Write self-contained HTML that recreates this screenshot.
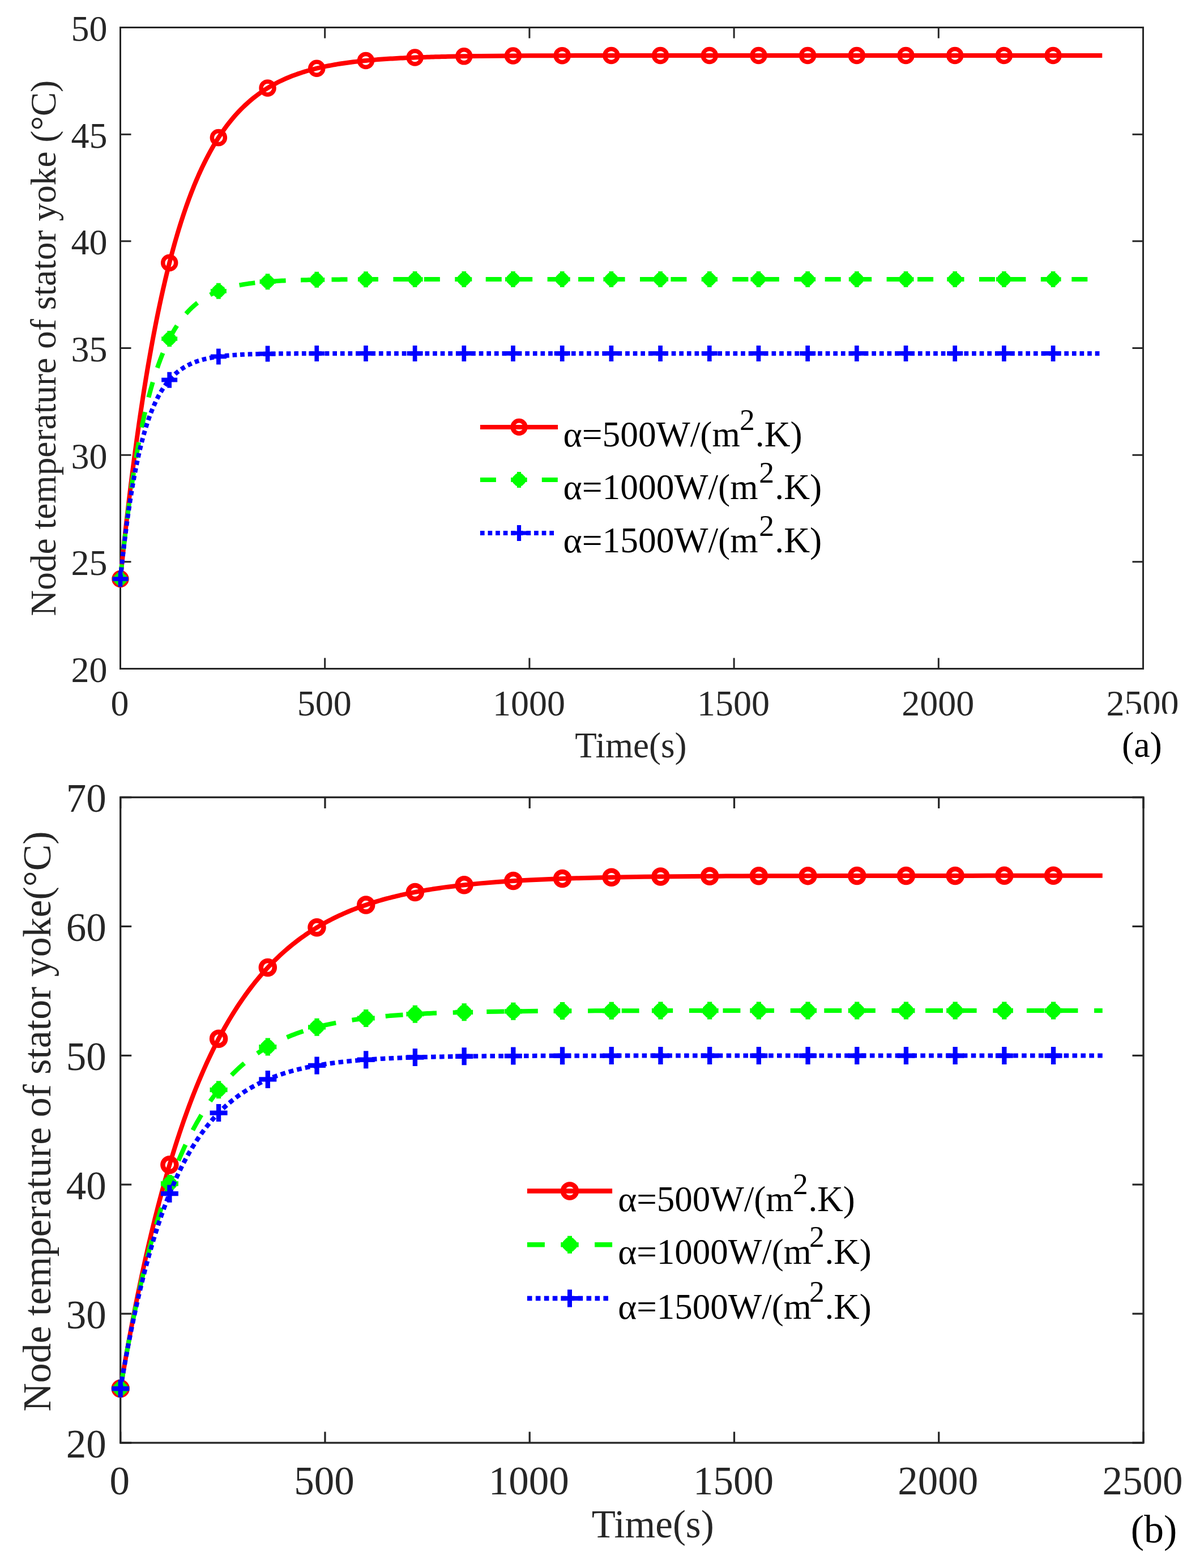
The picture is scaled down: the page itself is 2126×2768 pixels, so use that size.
<!DOCTYPE html>
<html><head><meta charset="utf-8"><title>Node temperature of stator yoke</title>
<style>html,body{margin:0;padding:0;background:#fff;width:2126px;height:2768px;overflow:hidden}svg{display:block}</style>
</head><body>
<svg width="2126" height="2768" viewBox="0 0 2126 2768">
<rect width="2126" height="2768" fill="#ffffff"/>
<rect x="212.5" y="48.5" width="1806" height="1132" fill="none" stroke="#262626" stroke-width="3"/>
<path d="M212.5 1180.5V1161.5M212.5 48.5V67.5M573.7 1180.5V1161.5M573.7 48.5V67.5M934.9 1180.5V1161.5M934.9 48.5V67.5M1296.1 1180.5V1161.5M1296.1 48.5V67.5M1657.3 1180.5V1161.5M1657.3 48.5V67.5M2018.5 1180.5V1161.5M2018.5 48.5V67.5M212.5 1180.5H231.5M2018.5 1180.5H1999.5M212.5 991.83H231.5M2018.5 991.83H1999.5M212.5 803.17H231.5M2018.5 803.17H1999.5M212.5 614.5H231.5M2018.5 614.5H1999.5M212.5 425.83H231.5M2018.5 425.83H1999.5M212.5 237.17H231.5M2018.5 237.17H1999.5M212.5 48.5H231.5M2018.5 48.5H1999.5" stroke="#262626" stroke-width="3" fill="none"/>
<path d="M212.5 1022.02 L213.94 1007.87 L215.39 993.93 L216.83 980.21 L218.28 966.7 L219.72 953.4 L221.17 940.3 L222.61 927.4 L224.06 914.7 L225.5 902.19 L226.95 889.87 L228.39 877.74 L229.84 865.8 L231.28 854.04 L232.73 842.47 L234.17 831.06 L235.62 819.84 L237.06 808.78 L238.51 797.9 L239.95 787.18 L241.4 776.62 L242.84 766.23 L244.29 755.99 L245.73 745.92 L247.18 735.99 L248.62 726.22 L250.06 716.6 L251.51 707.13 L252.95 697.8 L254.4 688.61 L255.84 679.57 L257.29 670.66 L258.73 661.89 L260.18 653.25 L261.62 644.75 L263.07 636.38 L264.51 628.13 L265.96 620.01 L267.4 612.02 L268.85 604.14 L270.29 596.39 L271.74 588.76 L273.18 581.24 L274.63 573.84 L276.07 566.55 L277.52 559.38 L278.96 552.31 L280.41 545.35 L281.85 538.5 L283.3 531.75 L284.74 525.11 L286.18 518.57 L287.63 512.13 L289.07 505.78 L290.52 499.54 L291.96 493.39 L293.41 487.33 L294.85 481.37 L296.3 475.5 L297.74 469.72 L299.19 464.02 L300.63 458.42 L302.08 452.9 L303.52 447.46 L304.97 442.11 L306.41 436.84 L307.86 431.65 L309.3 426.54 L310.75 421.5 L312.19 416.55 L313.64 411.67 L315.08 406.87 L316.53 402.13 L317.97 397.48 L319.42 392.89 L320.86 388.37 L322.3 383.92 L323.75 379.54 L325.19 375.23 L326.64 370.99 L328.08 366.8 L329.53 362.69 L330.97 358.63 L332.42 354.64 L333.86 350.71 L335.31 346.84 L336.75 343.03 L338.2 339.27 L339.64 335.58 L341.09 331.94 L342.53 328.35 L343.98 324.83 L345.42 321.35 L346.87 317.93 L348.31 314.56 L349.76 311.24 L351.2 307.98 L352.65 304.76 L354.09 301.59 L355.54 298.47 L356.98 295.4 L360.59 287.93 L364.2 280.74 L367.82 273.82 L371.43 267.16 L375.04 260.76 L378.65 254.6 L382.26 248.67 L385.88 242.96 L389.49 237.47 L393.1 232.19 L396.71 227.11 L400.32 222.22 L403.94 217.52 L407.55 212.99 L411.16 208.64 L414.77 204.45 L418.38 200.42 L422 196.54 L425.61 192.81 L429.22 189.22 L432.83 185.76 L436.44 182.44 L440.06 179.24 L443.67 176.16 L447.28 173.2 L450.89 170.35 L454.5 167.61 L458.12 164.97 L461.73 162.44 L465.34 160 L468.95 157.65 L472.56 155.39 L476.18 153.21 L479.79 151.12 L483.4 149.11 L487.01 147.17 L490.62 145.31 L494.24 143.51 L497.85 141.79 L501.46 140.13 L505.07 138.53 L508.68 137 L512.3 135.52 L515.91 134.09 L519.52 132.73 L523.13 131.41 L526.74 130.14 L530.36 128.92 L533.97 127.75 L537.58 126.62 L541.19 125.54 L544.8 124.49 L548.42 123.49 L552.03 122.52 L555.64 121.59 L559.25 120.69 L562.86 119.83 L566.48 119 L570.09 118.21 L573.7 117.44 L577.31 116.7 L580.92 115.99 L584.54 115.31 L588.15 114.65 L591.76 114.02 L595.37 113.41 L598.98 112.82 L602.6 112.26 L606.21 111.72 L609.82 111.19 L613.43 110.69 L617.04 110.21 L620.66 109.74 L624.27 109.3 L627.88 108.87 L631.49 108.45 L635.1 108.05 L638.72 107.67 L642.33 107.3 L645.94 106.95 L649.55 106.61 L653.16 106.28 L656.78 105.96 L660.39 105.66 L664 105.37 L667.61 105.08 L671.22 104.81 L674.84 104.55 L678.45 104.3 L682.06 104.06 L685.67 103.83 L689.28 103.61 L692.9 103.39 L696.51 103.19 L700.12 102.99 L703.73 102.79 L707.34 102.61 L710.96 102.43 L714.57 102.26 L718.18 102.1 L721.79 101.94 L725.4 101.79 L729.02 101.64 L732.63 101.5 L736.24 101.37 L739.85 101.24 L743.46 101.11 L747.08 100.99 L750.69 100.88 L754.3 100.76 L757.91 100.66 L761.52 100.55 L765.14 100.46 L768.75 100.36 L772.36 100.27 L775.97 100.18 L779.58 100.09 L783.2 100.01 L786.81 99.93 L790.42 99.86 L819.32 99.35 L848.21 98.97 L877.11 98.69 L906 98.49 L934.9 98.34 L963.8 98.23 L992.69 98.15 L1021.59 98.09 L1050.48 98.05 L1079.38 98.02 L1108.28 98 L1137.17 97.98 L1166.07 97.97 L1194.96 97.96 L1223.86 97.95 L1252.76 97.94 L1281.65 97.94 L1310.55 97.94 L1339.44 97.94 L1368.34 97.93 L1397.24 97.93 L1426.13 97.93 L1455.03 97.93 L1483.92 97.93 L1512.82 97.93 L1541.72 97.93 L1570.61 97.93 L1599.51 97.93 L1628.4 97.93 L1657.3 97.93 L1686.2 97.93 L1715.09 97.93 L1743.99 97.93 L1772.88 97.93 L1801.78 97.93 L1830.68 97.93 L1859.57 97.93 L1888.47 97.93 L1917.36 97.93 L1946.26 97.93" fill="none" stroke="#ff0000" stroke-width="8" stroke-linejoin="round"/>
<circle cx="212.5" cy="1022.02" r="11.5" fill="none" stroke="#ff0000" stroke-width="7.5"/>
<circle cx="299.19" cy="464.02" r="11.5" fill="none" stroke="#ff0000" stroke-width="7.5"/>
<circle cx="385.88" cy="242.96" r="11.5" fill="none" stroke="#ff0000" stroke-width="7.5"/>
<circle cx="472.56" cy="155.39" r="11.5" fill="none" stroke="#ff0000" stroke-width="7.5"/>
<circle cx="559.25" cy="120.69" r="11.5" fill="none" stroke="#ff0000" stroke-width="7.5"/>
<circle cx="645.94" cy="106.95" r="11.5" fill="none" stroke="#ff0000" stroke-width="7.5"/>
<circle cx="732.63" cy="101.5" r="11.5" fill="none" stroke="#ff0000" stroke-width="7.5"/>
<circle cx="819.32" cy="99.35" r="11.5" fill="none" stroke="#ff0000" stroke-width="7.5"/>
<circle cx="906" cy="98.49" r="11.5" fill="none" stroke="#ff0000" stroke-width="7.5"/>
<circle cx="992.69" cy="98.15" r="11.5" fill="none" stroke="#ff0000" stroke-width="7.5"/>
<circle cx="1079.38" cy="98.02" r="11.5" fill="none" stroke="#ff0000" stroke-width="7.5"/>
<circle cx="1166.07" cy="97.97" r="11.5" fill="none" stroke="#ff0000" stroke-width="7.5"/>
<circle cx="1252.76" cy="97.94" r="11.5" fill="none" stroke="#ff0000" stroke-width="7.5"/>
<circle cx="1339.44" cy="97.94" r="11.5" fill="none" stroke="#ff0000" stroke-width="7.5"/>
<circle cx="1426.13" cy="97.93" r="11.5" fill="none" stroke="#ff0000" stroke-width="7.5"/>
<circle cx="1512.82" cy="97.93" r="11.5" fill="none" stroke="#ff0000" stroke-width="7.5"/>
<circle cx="1599.51" cy="97.93" r="11.5" fill="none" stroke="#ff0000" stroke-width="7.5"/>
<circle cx="1686.2" cy="97.93" r="11.5" fill="none" stroke="#ff0000" stroke-width="7.5"/>
<circle cx="1772.88" cy="97.93" r="11.5" fill="none" stroke="#ff0000" stroke-width="7.5"/>
<circle cx="1859.57" cy="97.93" r="11.5" fill="none" stroke="#ff0000" stroke-width="7.5"/>
<path d="M212.5 1022.02 L213.94 1007.95 L215.39 994.26 L216.83 980.93 L218.28 967.95 L219.72 955.32 L221.17 943.02 L222.61 931.06 L224.06 919.41 L225.5 908.07 L226.95 897.03 L228.39 886.28 L229.84 875.82 L231.28 865.64 L232.73 855.73 L234.17 846.09 L235.62 836.7 L237.06 827.56 L238.51 818.66 L239.95 810 L241.4 801.57 L242.84 793.36 L244.29 785.37 L245.73 777.6 L247.18 770.03 L248.62 762.66 L250.06 755.49 L251.51 748.51 L252.95 741.71 L254.4 735.1 L255.84 728.66 L257.29 722.39 L258.73 716.29 L260.18 710.36 L261.62 704.58 L263.07 698.95 L264.51 693.47 L265.96 688.14 L267.4 682.95 L268.85 677.9 L270.29 672.98 L271.74 668.2 L273.18 663.54 L274.63 659 L276.07 654.59 L277.52 650.29 L278.96 646.11 L280.41 642.03 L281.85 638.07 L283.3 634.21 L284.74 630.46 L286.18 626.8 L287.63 623.24 L289.07 619.78 L290.52 616.41 L291.96 613.13 L293.41 609.93 L294.85 606.82 L296.3 603.79 L297.74 600.85 L299.19 597.98 L300.63 595.19 L302.08 592.47 L303.52 589.82 L304.97 587.25 L306.41 584.74 L307.86 582.3 L309.3 579.93 L310.75 577.62 L312.19 575.37 L313.64 573.18 L315.08 571.04 L316.53 568.97 L317.97 566.95 L319.42 564.98 L320.86 563.07 L322.3 561.2 L323.75 559.39 L325.19 557.62 L326.64 555.91 L328.08 554.23 L329.53 552.6 L330.97 551.02 L332.42 549.48 L333.86 547.97 L335.31 546.51 L336.75 545.09 L338.2 543.7 L339.64 542.35 L341.09 541.04 L342.53 539.76 L343.98 538.52 L345.42 537.31 L346.87 536.13 L348.31 534.98 L349.76 533.87 L351.2 532.78 L352.65 531.72 L354.09 530.69 L355.54 529.69 L356.98 528.72 L360.59 526.39 L364.2 524.21 L367.82 522.18 L371.43 520.28 L375.04 518.5 L378.65 516.84 L382.26 515.28 L385.88 513.83 L389.49 512.47 L393.1 511.2 L396.71 510.02 L400.32 508.91 L403.94 507.87 L407.55 506.9 L411.16 506 L414.77 505.15 L418.38 504.36 L422 503.62 L425.61 502.93 L429.22 502.28 L432.83 501.67 L436.44 501.11 L440.06 500.58 L443.67 500.09 L447.28 499.62 L450.89 499.19 L454.5 498.79 L458.12 498.41 L461.73 498.06 L465.34 497.73 L468.95 497.42 L472.56 497.13 L476.18 496.86 L479.79 496.61 L483.4 496.38 L487.01 496.16 L490.62 495.95 L494.24 495.76 L497.85 495.58 L501.46 495.41 L505.07 495.25 L508.68 495.11 L512.3 494.97 L515.91 494.84 L519.52 494.72 L523.13 494.61 L526.74 494.5 L530.36 494.41 L533.97 494.31 L537.58 494.23 L541.19 494.15 L544.8 494.07 L548.42 494 L552.03 493.94 L555.64 493.88 L559.25 493.82 L562.86 493.77 L566.48 493.72 L570.09 493.67 L573.7 493.63 L577.31 493.58 L580.92 493.55 L584.54 493.51 L588.15 493.48 L591.76 493.45 L595.37 493.42 L598.98 493.39 L602.6 493.36 L606.21 493.34 L609.82 493.32 L613.43 493.3 L617.04 493.28 L620.66 493.26 L624.27 493.24 L627.88 493.23 L631.49 493.21 L635.1 493.2 L638.72 493.18 L642.33 493.17 L645.94 493.16 L649.55 493.15 L653.16 493.14 L656.78 493.13 L660.39 493.12 L664 493.11 L667.61 493.11 L671.22 493.1 L674.84 493.09 L678.45 493.09 L682.06 493.08 L685.67 493.08 L689.28 493.07 L692.9 493.07 L696.51 493.06 L700.12 493.06 L703.73 493.05 L707.34 493.05 L710.96 493.05 L714.57 493.04 L718.18 493.04 L721.79 493.04 L725.4 493.04 L729.02 493.03 L732.63 493.03 L736.24 493.03 L739.85 493.03 L743.46 493.03 L747.08 493.02 L750.69 493.02 L754.3 493.02 L757.91 493.02 L761.52 493.02 L765.14 493.02 L768.75 493.02 L772.36 493.01 L775.97 493.01 L779.58 493.01 L783.2 493.01 L786.81 493.01 L790.42 493.01 L819.32 493.01 L848.21 493 L877.11 493 L906 493 L934.9 493 L963.8 493 L992.69 493 L1021.59 493 L1050.48 493 L1079.38 493 L1108.28 493 L1137.17 493 L1166.07 493 L1194.96 493 L1223.86 493 L1252.76 493 L1281.65 493 L1310.55 493 L1339.44 493 L1368.34 493 L1397.24 493 L1426.13 493 L1455.03 493 L1483.92 493 L1512.82 493 L1541.72 493 L1570.61 493 L1599.51 493 L1628.4 493 L1657.3 493 L1686.2 493 L1715.09 493 L1743.99 493 L1772.88 493 L1801.78 493 L1830.68 493 L1859.57 493 L1888.47 493 L1917.36 493 L1946.26 493" fill="none" stroke="#00ff00" stroke-width="8" stroke-linejoin="round" stroke-dasharray="28 26.45" stroke-dashoffset="2.16"/>
<path d="M198.5 1022.02H226.5M212.5 1008.02V1036.02" stroke="#00ff00" stroke-width="7.7" fill="none"/><polygon points="207.5,1011.02 217.5,1011.02 223.5,1017.02 223.5,1027.02 217.5,1033.02 207.5,1033.02 201.5,1027.02 201.5,1017.02" fill="#00ff00"/>
<path d="M285.19 597.98H313.19M299.19 583.98V611.98" stroke="#00ff00" stroke-width="7.7" fill="none"/><polygon points="294.19,586.98 304.19,586.98 310.19,592.98 310.19,602.98 304.19,608.98 294.19,608.98 288.19,602.98 288.19,592.98" fill="#00ff00"/>
<path d="M371.88 513.83H399.88M385.88 499.83V527.83" stroke="#00ff00" stroke-width="7.7" fill="none"/><polygon points="380.88,502.83 390.88,502.83 396.88,508.83 396.88,518.83 390.88,524.83 380.88,524.83 374.88,518.83 374.88,508.83" fill="#00ff00"/>
<path d="M458.56 497.13H486.56M472.56 483.13V511.13" stroke="#00ff00" stroke-width="7.7" fill="none"/><polygon points="467.56,486.13 477.56,486.13 483.56,492.13 483.56,502.13 477.56,508.13 467.56,508.13 461.56,502.13 461.56,492.13" fill="#00ff00"/>
<path d="M545.25 493.82H573.25M559.25 479.82V507.82" stroke="#00ff00" stroke-width="7.7" fill="none"/><polygon points="554.25,482.82 564.25,482.82 570.25,488.82 570.25,498.82 564.25,504.82 554.25,504.82 548.25,498.82 548.25,488.82" fill="#00ff00"/>
<path d="M631.94 493.16H659.94M645.94 479.16V507.16" stroke="#00ff00" stroke-width="7.7" fill="none"/><polygon points="640.94,482.16 650.94,482.16 656.94,488.16 656.94,498.16 650.94,504.16 640.94,504.16 634.94,498.16 634.94,488.16" fill="#00ff00"/>
<path d="M718.63 493.03H746.63M732.63 479.03V507.03" stroke="#00ff00" stroke-width="7.7" fill="none"/><polygon points="727.63,482.03 737.63,482.03 743.63,488.03 743.63,498.03 737.63,504.03 727.63,504.03 721.63,498.03 721.63,488.03" fill="#00ff00"/>
<path d="M805.32 493.01H833.32M819.32 479.01V507.01" stroke="#00ff00" stroke-width="7.7" fill="none"/><polygon points="814.32,482.01 824.32,482.01 830.32,488.01 830.32,498.01 824.32,504.01 814.32,504.01 808.32,498.01 808.32,488.01" fill="#00ff00"/>
<path d="M892 493H920M906 479V507" stroke="#00ff00" stroke-width="7.7" fill="none"/><polygon points="901,482 911,482 917,488 917,498 911,504 901,504 895,498 895,488" fill="#00ff00"/>
<path d="M978.69 493H1006.69M992.69 479V507" stroke="#00ff00" stroke-width="7.7" fill="none"/><polygon points="987.69,482 997.69,482 1003.69,488 1003.69,498 997.69,504 987.69,504 981.69,498 981.69,488" fill="#00ff00"/>
<path d="M1065.38 493H1093.38M1079.38 479V507" stroke="#00ff00" stroke-width="7.7" fill="none"/><polygon points="1074.38,482 1084.38,482 1090.38,488 1090.38,498 1084.38,504 1074.38,504 1068.38,498 1068.38,488" fill="#00ff00"/>
<path d="M1152.07 493H1180.07M1166.07 479V507" stroke="#00ff00" stroke-width="7.7" fill="none"/><polygon points="1161.07,482 1171.07,482 1177.07,488 1177.07,498 1171.07,504 1161.07,504 1155.07,498 1155.07,488" fill="#00ff00"/>
<path d="M1238.76 493H1266.76M1252.76 479V507" stroke="#00ff00" stroke-width="7.7" fill="none"/><polygon points="1247.76,482 1257.76,482 1263.76,488 1263.76,498 1257.76,504 1247.76,504 1241.76,498 1241.76,488" fill="#00ff00"/>
<path d="M1325.44 493H1353.44M1339.44 479V507" stroke="#00ff00" stroke-width="7.7" fill="none"/><polygon points="1334.44,482 1344.44,482 1350.44,488 1350.44,498 1344.44,504 1334.44,504 1328.44,498 1328.44,488" fill="#00ff00"/>
<path d="M1412.13 493H1440.13M1426.13 479V507" stroke="#00ff00" stroke-width="7.7" fill="none"/><polygon points="1421.13,482 1431.13,482 1437.13,488 1437.13,498 1431.13,504 1421.13,504 1415.13,498 1415.13,488" fill="#00ff00"/>
<path d="M1498.82 493H1526.82M1512.82 479V507" stroke="#00ff00" stroke-width="7.7" fill="none"/><polygon points="1507.82,482 1517.82,482 1523.82,488 1523.82,498 1517.82,504 1507.82,504 1501.82,498 1501.82,488" fill="#00ff00"/>
<path d="M1585.51 493H1613.51M1599.51 479V507" stroke="#00ff00" stroke-width="7.7" fill="none"/><polygon points="1594.51,482 1604.51,482 1610.51,488 1610.51,498 1604.51,504 1594.51,504 1588.51,498 1588.51,488" fill="#00ff00"/>
<path d="M1672.2 493H1700.2M1686.2 479V507" stroke="#00ff00" stroke-width="7.7" fill="none"/><polygon points="1681.2,482 1691.2,482 1697.2,488 1697.2,498 1691.2,504 1681.2,504 1675.2,498 1675.2,488" fill="#00ff00"/>
<path d="M1758.88 493H1786.88M1772.88 479V507" stroke="#00ff00" stroke-width="7.7" fill="none"/><polygon points="1767.88,482 1777.88,482 1783.88,488 1783.88,498 1777.88,504 1767.88,504 1761.88,498 1761.88,488" fill="#00ff00"/>
<path d="M1845.57 493H1873.57M1859.57 479V507" stroke="#00ff00" stroke-width="7.7" fill="none"/><polygon points="1854.57,482 1864.57,482 1870.57,488 1870.57,498 1864.57,504 1854.57,504 1848.57,498 1848.57,488" fill="#00ff00"/>
<path d="M212.5 1022.02 L213.94 1008.05 L215.39 994.58 L216.83 981.57 L218.28 969.03 L219.72 956.92 L221.17 945.24 L222.61 933.96 L224.06 923.09 L225.5 912.59 L226.95 902.46 L228.39 892.69 L229.84 883.26 L231.28 874.16 L232.73 865.39 L234.17 856.91 L235.62 848.74 L237.06 840.85 L238.51 833.24 L239.95 825.9 L241.4 818.81 L242.84 811.98 L244.29 805.38 L245.73 799.01 L247.18 792.87 L248.62 786.94 L250.06 781.22 L251.51 775.71 L252.95 770.38 L254.4 765.24 L255.84 760.29 L257.29 755.5 L258.73 750.89 L260.18 746.43 L261.62 742.13 L263.07 737.99 L264.51 733.99 L265.96 730.12 L267.4 726.4 L268.85 722.8 L270.29 719.34 L271.74 715.99 L273.18 712.76 L274.63 709.64 L276.07 706.64 L277.52 703.73 L278.96 700.93 L280.41 698.23 L281.85 695.63 L283.3 693.11 L284.74 690.68 L286.18 688.34 L287.63 686.08 L289.07 683.9 L290.52 681.8 L291.96 679.77 L293.41 677.81 L294.85 675.92 L296.3 674.09 L297.74 672.33 L299.19 670.64 L300.63 669 L302.08 667.42 L303.52 665.89 L304.97 664.42 L306.41 663 L307.86 661.63 L309.3 660.31 L310.75 659.03 L312.19 657.8 L313.64 656.61 L315.08 655.46 L316.53 654.36 L317.97 653.29 L319.42 652.26 L320.86 651.27 L322.3 650.31 L323.75 649.38 L325.19 648.49 L326.64 647.63 L328.08 646.8 L329.53 645.99 L330.97 645.22 L332.42 644.47 L333.86 643.75 L335.31 643.06 L336.75 642.39 L338.2 641.74 L339.64 641.11 L341.09 640.51 L342.53 639.93 L343.98 639.37 L345.42 638.83 L346.87 638.3 L348.31 637.8 L349.76 637.31 L351.2 636.84 L352.65 636.39 L354.09 635.95 L355.54 635.53 L356.98 635.13 L360.59 634.17 L364.2 633.3 L367.82 632.5 L371.43 631.76 L375.04 631.1 L378.65 630.48 L382.26 629.92 L385.88 629.41 L389.49 628.94 L393.1 628.52 L396.71 628.12 L400.32 627.77 L403.94 627.44 L407.55 627.14 L411.16 626.87 L414.77 626.62 L418.38 626.39 L422 626.18 L425.61 625.99 L429.22 625.81 L432.83 625.65 L436.44 625.5 L440.06 625.37 L443.67 625.25 L447.28 625.13 L450.89 625.03 L454.5 624.94 L458.12 624.85 L461.73 624.77 L465.34 624.7 L468.95 624.64 L472.56 624.58 L476.18 624.52 L479.79 624.47 L483.4 624.43 L487.01 624.38 L490.62 624.34 L494.24 624.31 L497.85 624.28 L501.46 624.25 L505.07 624.22 L508.68 624.2 L512.3 624.17 L515.91 624.15 L519.52 624.13 L523.13 624.12 L526.74 624.1 L530.36 624.09 L533.97 624.07 L537.58 624.06 L541.19 624.05 L544.8 624.04 L548.42 624.03 L552.03 624.02 L555.64 624.02 L559.25 624.01 L562.86 624 L566.48 624 L570.09 623.99 L573.7 623.99 L577.31 623.98 L580.92 623.98 L584.54 623.97 L588.15 623.97 L591.76 623.97 L595.37 623.96 L598.98 623.96 L602.6 623.96 L606.21 623.96 L609.82 623.95 L613.43 623.95 L617.04 623.95 L620.66 623.95 L624.27 623.95 L627.88 623.95 L631.49 623.95 L635.1 623.94 L638.72 623.94 L642.33 623.94 L645.94 623.94 L649.55 623.94 L653.16 623.94 L656.78 623.94 L660.39 623.94 L664 623.94 L667.61 623.94 L671.22 623.94 L674.84 623.94 L678.45 623.94 L682.06 623.94 L685.67 623.94 L689.28 623.94 L692.9 623.94 L696.51 623.94 L700.12 623.94 L703.73 623.94 L707.34 623.94 L710.96 623.94 L714.57 623.93 L718.18 623.93 L721.79 623.93 L725.4 623.93 L729.02 623.93 L732.63 623.93 L736.24 623.93 L739.85 623.93 L743.46 623.93 L747.08 623.93 L750.69 623.93 L754.3 623.93 L757.91 623.93 L761.52 623.93 L765.14 623.93 L768.75 623.93 L772.36 623.93 L775.97 623.93 L779.58 623.93 L783.2 623.93 L786.81 623.93 L790.42 623.93 L819.32 623.93 L848.21 623.93 L877.11 623.93 L906 623.93 L934.9 623.93 L963.8 623.93 L992.69 623.93 L1021.59 623.93 L1050.48 623.93 L1079.38 623.93 L1108.28 623.93 L1137.17 623.93 L1166.07 623.93 L1194.96 623.93 L1223.86 623.93 L1252.76 623.93 L1281.65 623.93 L1310.55 623.93 L1339.44 623.93 L1368.34 623.93 L1397.24 623.93 L1426.13 623.93 L1455.03 623.93 L1483.92 623.93 L1512.82 623.93 L1541.72 623.93 L1570.61 623.93 L1599.51 623.93 L1628.4 623.93 L1657.3 623.93 L1686.2 623.93 L1715.09 623.93 L1743.99 623.93 L1772.88 623.93 L1801.78 623.93 L1830.68 623.93 L1859.57 623.93 L1888.47 623.93 L1917.36 623.93 L1946.26 623.93" fill="none" stroke="#0000ff" stroke-width="8" stroke-linejoin="round" stroke-dasharray="7.7 5.9" stroke-dashoffset="0.48"/>
<path d="M198.5 1022.02H226.5M212.5 1008.02V1036.02" stroke="#0000ff" stroke-width="7.7" fill="none"/>
<path d="M285.19 670.64H313.19M299.19 656.64V684.64" stroke="#0000ff" stroke-width="7.7" fill="none"/>
<path d="M371.88 629.41H399.88M385.88 615.41V643.41" stroke="#0000ff" stroke-width="7.7" fill="none"/>
<path d="M458.56 624.58H486.56M472.56 610.58V638.58" stroke="#0000ff" stroke-width="7.7" fill="none"/>
<path d="M545.25 624.01H573.25M559.25 610.01V638.01" stroke="#0000ff" stroke-width="7.7" fill="none"/>
<path d="M631.94 623.94H659.94M645.94 609.94V637.94" stroke="#0000ff" stroke-width="7.7" fill="none"/>
<path d="M718.63 623.93H746.63M732.63 609.93V637.93" stroke="#0000ff" stroke-width="7.7" fill="none"/>
<path d="M805.32 623.93H833.32M819.32 609.93V637.93" stroke="#0000ff" stroke-width="7.7" fill="none"/>
<path d="M892 623.93H920M906 609.93V637.93" stroke="#0000ff" stroke-width="7.7" fill="none"/>
<path d="M978.69 623.93H1006.69M992.69 609.93V637.93" stroke="#0000ff" stroke-width="7.7" fill="none"/>
<path d="M1065.38 623.93H1093.38M1079.38 609.93V637.93" stroke="#0000ff" stroke-width="7.7" fill="none"/>
<path d="M1152.07 623.93H1180.07M1166.07 609.93V637.93" stroke="#0000ff" stroke-width="7.7" fill="none"/>
<path d="M1238.76 623.93H1266.76M1252.76 609.93V637.93" stroke="#0000ff" stroke-width="7.7" fill="none"/>
<path d="M1325.44 623.93H1353.44M1339.44 609.93V637.93" stroke="#0000ff" stroke-width="7.7" fill="none"/>
<path d="M1412.13 623.93H1440.13M1426.13 609.93V637.93" stroke="#0000ff" stroke-width="7.7" fill="none"/>
<path d="M1498.82 623.93H1526.82M1512.82 609.93V637.93" stroke="#0000ff" stroke-width="7.7" fill="none"/>
<path d="M1585.51 623.93H1613.51M1599.51 609.93V637.93" stroke="#0000ff" stroke-width="7.7" fill="none"/>
<path d="M1672.2 623.93H1700.2M1686.2 609.93V637.93" stroke="#0000ff" stroke-width="7.7" fill="none"/>
<path d="M1758.88 623.93H1786.88M1772.88 609.93V637.93" stroke="#0000ff" stroke-width="7.7" fill="none"/>
<path d="M1845.57 623.93H1873.57M1859.57 609.93V637.93" stroke="#0000ff" stroke-width="7.7" fill="none"/>
<g font-family="'Liberation Serif','Times New Roman',serif" font-size="64" fill="#262626">
<text x="211.5" y="1263" text-anchor="middle">0</text>
<text x="572.7" y="1263" text-anchor="middle">500</text>
<text x="933.9" y="1263" text-anchor="middle">1000</text>
<text x="1295.1" y="1263" text-anchor="middle">1500</text>
<text x="1656.3" y="1263" text-anchor="middle">2000</text>
<text x="2017.5" y="1263" text-anchor="middle">2500</text>
<text x="189.5" y="1204" text-anchor="end">20</text>
<text x="189.5" y="1015.33" text-anchor="end">25</text>
<text x="189.5" y="826.67" text-anchor="end">30</text>
<text x="189.5" y="638" text-anchor="end">35</text>
<text x="189.5" y="449.33" text-anchor="end">40</text>
<text x="189.5" y="260.67" text-anchor="end">45</text>
<text x="189.5" y="72" text-anchor="end">50</text>
</g>
<text x="1113.8" y="1337" font-family="'Liberation Serif','Times New Roman',serif" font-size="63" fill="#262626" text-anchor="middle">Time(s)</text>
<text transform="translate(98 614.6) rotate(-90)" font-family="'Liberation Serif','Times New Roman',serif" font-size="63.4" fill="#262626" text-anchor="middle">Node temperature of stator yoke (&#176;C)</text>
<text x="1980.9" y="1336" font-family="'Liberation Serif','Times New Roman',serif" font-size="64" fill="#000">(a)</text>
<path d="M847.9 753.9H985.1" stroke="#ff0000" stroke-width="8"/>
<circle cx="916.5" cy="753.9" r="11.2" fill="none" stroke="#ff0000" stroke-width="7.8"/>
<text x="994.4" y="788.3" font-family="'Liberation Serif','Times New Roman',serif" font-size="63.5" fill="#000">&#945;=500W/(m<tspan x="1306" y="759.1" font-size="53.5">2</tspan><tspan x="1333.8" y="788.3">.K)</tspan></text>
<path d="M847.9 847H985.1" stroke="#00ff00" stroke-width="8" stroke-dasharray="28 26.45"/>
<path d="M902.5 847H930.5M916.5 833V861" stroke="#00ff00" stroke-width="7.2" fill="none"/><polygon points="911.25,836.25 921.75,836.25 927.25,841.75 927.25,852.25 921.75,857.75 911.25,857.75 905.75,852.25 905.75,841.75" fill="#00ff00"/>
<text x="994.4" y="880.8" font-family="'Liberation Serif','Times New Roman',serif" font-size="63.5" fill="#000">&#945;=1000W/(m<tspan x="1340.2" y="851.6" font-size="53.5">2</tspan><tspan x="1368.3" y="880.8">.K)</tspan></text>
<path d="M847.9 941H978" stroke="#0000ff" stroke-width="8" stroke-dasharray="7.7 5.9"/>
<path d="M902.5 941H930.5M916.5 927V955" stroke="#0000ff" stroke-width="7.2" fill="none"/>
<text x="994.4" y="975" font-family="'Liberation Serif','Times New Roman',serif" font-size="63.5" fill="#000">&#945;=1500W/(m<tspan x="1340.2" y="945.8" font-size="53.5">2</tspan><tspan x="1368.3" y="975">.K)</tspan></text>
<rect x="1986" y="1260" width="110" height="14" fill="#ffffff"/>
<rect x="212.7" y="1407.5" width="1806.3" height="1139.5" fill="none" stroke="#262626" stroke-width="3.3"/>
<path d="M212.7 2547V2527.5M212.7 1407.5V1427M573.96 2547V2527.5M573.96 1407.5V1427M935.22 2547V2527.5M935.22 1407.5V1427M1296.48 2547V2527.5M1296.48 1407.5V1427M1657.74 2547V2527.5M1657.74 1407.5V1427M2019 2547V2527.5M2019 1407.5V1427M212.7 2547H232.2M2019 2547H1999.5M212.7 2319.1H232.2M2019 2319.1H1999.5M212.7 2091.2H232.2M2019 2091.2H1999.5M212.7 1863.3H232.2M2019 1863.3H1999.5M212.7 1635.4H232.2M2019 1635.4H1999.5M212.7 1407.5H232.2M2019 1407.5H1999.5" stroke="#262626" stroke-width="3.3" fill="none"/>
<path d="M212.7 2451.28 L214.15 2442.68 L215.59 2434.15 L217.04 2425.71 L218.48 2417.34 L219.93 2409.06 L221.37 2400.85 L222.82 2392.73 L224.26 2384.67 L225.71 2376.7 L227.15 2368.8 L228.6 2360.98 L230.04 2353.23 L231.49 2345.56 L232.93 2337.96 L234.38 2330.43 L235.82 2322.97 L237.27 2315.58 L238.71 2308.26 L240.16 2301.02 L241.6 2293.84 L243.05 2286.73 L244.49 2279.69 L245.94 2272.71 L247.38 2265.8 L248.83 2258.96 L250.27 2252.18 L251.72 2245.46 L253.16 2238.81 L254.61 2232.23 L256.05 2225.7 L257.5 2219.24 L258.94 2212.84 L260.39 2206.5 L261.83 2200.22 L263.28 2194 L264.72 2187.84 L266.17 2181.73 L267.61 2175.69 L269.06 2169.7 L270.5 2163.77 L271.95 2157.9 L273.39 2152.08 L274.84 2146.32 L276.28 2140.61 L277.73 2134.95 L279.17 2129.35 L280.62 2123.81 L282.06 2118.31 L283.51 2112.87 L284.95 2107.48 L286.4 2102.14 L287.84 2096.86 L289.29 2091.62 L290.73 2086.43 L292.18 2081.29 L293.62 2076.2 L295.07 2071.16 L296.51 2066.17 L297.96 2061.22 L299.4 2056.32 L300.85 2051.47 L302.29 2046.66 L303.74 2041.9 L305.18 2037.19 L306.63 2032.52 L308.07 2027.89 L309.52 2023.31 L310.96 2018.77 L312.41 2014.27 L313.85 2009.82 L315.3 2005.41 L316.74 2001.04 L318.19 1996.71 L319.63 1992.43 L321.08 1988.18 L322.52 1983.98 L323.97 1979.81 L325.41 1975.69 L326.86 1971.6 L328.3 1967.55 L329.75 1963.55 L331.19 1959.58 L332.64 1955.64 L334.08 1951.75 L335.53 1947.89 L336.97 1944.07 L338.42 1940.28 L339.86 1936.53 L341.31 1932.82 L342.75 1929.14 L344.2 1925.5 L345.64 1921.89 L347.09 1918.31 L348.53 1914.77 L349.98 1911.27 L351.42 1907.79 L352.87 1904.35 L354.31 1900.94 L355.76 1897.57 L357.2 1894.22 L360.82 1886 L364.43 1877.98 L368.04 1870.14 L371.65 1862.49 L375.27 1855.02 L378.88 1847.72 L382.49 1840.6 L386.1 1833.64 L389.72 1826.85 L393.33 1820.22 L396.94 1813.75 L400.56 1807.43 L404.17 1801.25 L407.78 1795.23 L411.39 1789.34 L415.01 1783.6 L418.62 1777.99 L422.23 1772.51 L425.84 1767.16 L429.46 1761.94 L433.07 1756.84 L436.68 1751.86 L440.29 1747 L443.91 1742.25 L447.52 1737.62 L451.13 1733.1 L454.74 1728.68 L458.36 1724.36 L461.97 1720.15 L465.58 1716.04 L469.19 1712.02 L472.81 1708.1 L476.42 1704.27 L480.03 1700.53 L483.64 1696.88 L487.26 1693.32 L490.87 1689.84 L494.48 1686.44 L498.1 1683.12 L501.71 1679.88 L505.32 1676.72 L508.93 1673.63 L512.55 1670.62 L516.16 1667.67 L519.77 1664.8 L523.38 1661.99 L527 1659.25 L530.61 1656.58 L534.22 1653.96 L537.83 1651.41 L541.45 1648.92 L545.06 1646.49 L548.67 1644.11 L552.28 1641.79 L555.9 1639.53 L559.51 1637.32 L563.12 1635.16 L566.73 1633.05 L570.35 1631 L573.96 1628.99 L577.57 1627.02 L581.19 1625.11 L584.8 1623.24 L588.41 1621.41 L592.02 1619.63 L595.64 1617.89 L599.25 1616.19 L602.86 1614.53 L606.47 1612.91 L610.09 1611.32 L613.7 1609.78 L617.31 1608.27 L620.92 1606.8 L624.54 1605.36 L628.15 1603.95 L631.76 1602.58 L635.37 1601.24 L638.99 1599.94 L642.6 1598.66 L646.21 1597.41 L649.82 1596.2 L653.44 1595.01 L657.05 1593.85 L660.66 1592.72 L664.27 1591.61 L667.89 1590.53 L671.5 1589.47 L675.11 1588.44 L678.73 1587.44 L682.34 1586.46 L685.95 1585.5 L689.56 1584.56 L693.18 1583.65 L696.79 1582.76 L700.4 1581.89 L704.01 1581.04 L707.63 1580.21 L711.24 1579.39 L714.85 1578.6 L718.46 1577.83 L722.08 1577.07 L725.69 1576.34 L729.3 1575.62 L732.91 1574.91 L736.53 1574.23 L740.14 1573.56 L743.75 1572.9 L747.36 1572.27 L750.98 1571.64 L754.59 1571.03 L758.2 1570.44 L761.82 1569.86 L765.43 1569.29 L769.04 1568.74 L772.65 1568.2 L776.27 1567.67 L779.88 1567.15 L783.49 1566.65 L787.1 1566.16 L790.72 1565.68 L819.62 1562.23 L848.52 1559.38 L877.42 1557.02 L906.32 1555.08 L935.22 1553.47 L964.12 1552.14 L993.02 1551.05 L1021.92 1550.14 L1050.82 1549.39 L1079.72 1548.77 L1108.62 1548.26 L1137.53 1547.84 L1166.43 1547.49 L1195.33 1547.2 L1224.23 1546.97 L1253.13 1546.77 L1282.03 1546.61 L1310.93 1546.47 L1339.83 1546.36 L1368.73 1546.27 L1397.63 1546.19 L1426.53 1546.13 L1455.43 1546.08 L1484.34 1546.04 L1513.24 1546 L1542.14 1545.97 L1571.04 1545.95 L1599.94 1545.93 L1628.84 1545.91 L1657.74 1545.9 L1686.64 1545.89 L1715.54 1545.88 L1744.44 1545.87 L1773.34 1545.87 L1802.24 1545.86 L1831.14 1545.86 L1860.05 1545.85 L1888.95 1545.85 L1917.85 1545.85 L1946.75 1545.84" fill="none" stroke="#ff0000" stroke-width="8" stroke-linejoin="round"/>
<circle cx="212.7" cy="2451.28" r="12" fill="none" stroke="#ff0000" stroke-width="8.5"/>
<circle cx="299.4" cy="2056.32" r="12" fill="none" stroke="#ff0000" stroke-width="8.5"/>
<circle cx="386.1" cy="1833.64" r="12" fill="none" stroke="#ff0000" stroke-width="8.5"/>
<circle cx="472.81" cy="1708.1" r="12" fill="none" stroke="#ff0000" stroke-width="8.5"/>
<circle cx="559.51" cy="1637.32" r="12" fill="none" stroke="#ff0000" stroke-width="8.5"/>
<circle cx="646.21" cy="1597.41" r="12" fill="none" stroke="#ff0000" stroke-width="8.5"/>
<circle cx="732.91" cy="1574.91" r="12" fill="none" stroke="#ff0000" stroke-width="8.5"/>
<circle cx="819.62" cy="1562.23" r="12" fill="none" stroke="#ff0000" stroke-width="8.5"/>
<circle cx="906.32" cy="1555.08" r="12" fill="none" stroke="#ff0000" stroke-width="8.5"/>
<circle cx="993.02" cy="1551.05" r="12" fill="none" stroke="#ff0000" stroke-width="8.5"/>
<circle cx="1079.72" cy="1548.77" r="12" fill="none" stroke="#ff0000" stroke-width="8.5"/>
<circle cx="1166.43" cy="1547.49" r="12" fill="none" stroke="#ff0000" stroke-width="8.5"/>
<circle cx="1253.13" cy="1546.77" r="12" fill="none" stroke="#ff0000" stroke-width="8.5"/>
<circle cx="1339.83" cy="1546.36" r="12" fill="none" stroke="#ff0000" stroke-width="8.5"/>
<circle cx="1426.53" cy="1546.13" r="12" fill="none" stroke="#ff0000" stroke-width="8.5"/>
<circle cx="1513.24" cy="1546" r="12" fill="none" stroke="#ff0000" stroke-width="8.5"/>
<circle cx="1599.94" cy="1545.93" r="12" fill="none" stroke="#ff0000" stroke-width="8.5"/>
<circle cx="1686.64" cy="1545.89" r="12" fill="none" stroke="#ff0000" stroke-width="8.5"/>
<circle cx="1773.34" cy="1545.87" r="12" fill="none" stroke="#ff0000" stroke-width="8.5"/>
<circle cx="1860.05" cy="1545.85" r="12" fill="none" stroke="#ff0000" stroke-width="8.5"/>
<path d="M212.7 2451.28 L214.15 2442.65 L215.59 2434.13 L217.04 2425.72 L218.48 2417.42 L219.93 2409.22 L221.37 2401.13 L222.82 2393.15 L224.26 2385.27 L225.71 2377.49 L227.15 2369.81 L228.6 2362.24 L230.04 2354.76 L231.49 2347.37 L232.93 2340.08 L234.38 2332.89 L235.82 2325.79 L237.27 2318.78 L238.71 2311.86 L240.16 2305.03 L241.6 2298.29 L243.05 2291.64 L244.49 2285.07 L245.94 2278.59 L247.38 2272.19 L248.83 2265.88 L250.27 2259.64 L251.72 2253.49 L253.16 2247.42 L254.61 2241.42 L256.05 2235.5 L257.5 2229.66 L258.94 2223.9 L260.39 2218.21 L261.83 2212.59 L263.28 2207.04 L264.72 2201.57 L266.17 2196.17 L267.61 2190.84 L269.06 2185.57 L270.5 2180.38 L271.95 2175.25 L273.39 2170.19 L274.84 2165.19 L276.28 2160.26 L277.73 2155.39 L279.17 2150.59 L280.62 2145.85 L282.06 2141.17 L283.51 2136.55 L284.95 2131.98 L286.4 2127.48 L287.84 2123.04 L289.29 2118.65 L290.73 2114.32 L292.18 2110.05 L293.62 2105.83 L295.07 2101.67 L296.51 2097.56 L297.96 2093.5 L299.4 2089.5 L300.85 2085.55 L302.29 2081.65 L303.74 2077.8 L305.18 2073.99 L306.63 2070.24 L308.07 2066.54 L309.52 2062.88 L310.96 2059.28 L312.41 2055.72 L313.85 2052.2 L315.3 2048.73 L316.74 2045.31 L318.19 2041.93 L319.63 2038.59 L321.08 2035.29 L322.52 2032.04 L323.97 2028.84 L325.41 2025.67 L326.86 2022.54 L328.3 2019.46 L329.75 2016.41 L331.19 2013.4 L332.64 2010.43 L334.08 2007.51 L335.53 2004.61 L336.97 2001.76 L338.42 1998.94 L339.86 1996.16 L341.31 1993.42 L342.75 1990.71 L344.2 1988.03 L345.64 1985.39 L347.09 1982.79 L348.53 1980.22 L349.98 1977.68 L351.42 1975.17 L352.87 1972.7 L354.31 1970.26 L355.76 1967.85 L357.2 1965.47 L360.82 1959.66 L364.43 1954.03 L368.04 1948.59 L371.65 1943.31 L375.27 1938.21 L378.88 1933.27 L382.49 1928.49 L386.1 1923.86 L389.72 1919.38 L393.33 1915.05 L396.94 1910.85 L400.56 1906.79 L404.17 1902.85 L407.78 1899.05 L411.39 1895.36 L415.01 1891.79 L418.62 1888.34 L422.23 1885 L425.84 1881.76 L429.46 1878.63 L433.07 1875.6 L436.68 1872.67 L440.29 1869.83 L443.91 1867.08 L447.52 1864.42 L451.13 1861.84 L454.74 1859.35 L458.36 1856.93 L461.97 1854.6 L465.58 1852.34 L469.19 1850.15 L472.81 1848.03 L476.42 1845.98 L480.03 1843.99 L483.64 1842.07 L487.26 1840.21 L490.87 1838.41 L494.48 1836.67 L498.1 1834.98 L501.71 1833.35 L505.32 1831.77 L508.93 1830.24 L512.55 1828.75 L516.16 1827.32 L519.77 1825.93 L523.38 1824.59 L527 1823.29 L530.61 1822.03 L534.22 1820.81 L537.83 1819.63 L541.45 1818.49 L545.06 1817.39 L548.67 1816.32 L552.28 1815.28 L555.9 1814.28 L559.51 1813.31 L563.12 1812.37 L566.73 1811.46 L570.35 1810.58 L573.96 1809.73 L577.57 1808.91 L581.19 1808.11 L584.8 1807.34 L588.41 1806.59 L592.02 1805.86 L595.64 1805.16 L599.25 1804.49 L602.86 1803.83 L606.47 1803.19 L610.09 1802.58 L613.7 1801.98 L617.31 1801.41 L620.92 1800.85 L624.54 1800.31 L628.15 1799.79 L631.76 1799.28 L635.37 1798.79 L638.99 1798.32 L642.6 1797.86 L646.21 1797.41 L649.82 1796.98 L653.44 1796.57 L657.05 1796.17 L660.66 1795.78 L664.27 1795.4 L667.89 1795.03 L671.5 1794.68 L675.11 1794.34 L678.73 1794.01 L682.34 1793.68 L685.95 1793.37 L689.56 1793.07 L693.18 1792.78 L696.79 1792.5 L700.4 1792.23 L704.01 1791.96 L707.63 1791.71 L711.24 1791.46 L714.85 1791.22 L718.46 1790.99 L722.08 1790.77 L725.69 1790.55 L729.3 1790.34 L732.91 1790.14 L736.53 1789.94 L740.14 1789.75 L743.75 1789.56 L747.36 1789.39 L750.98 1789.21 L754.59 1789.05 L758.2 1788.88 L761.82 1788.73 L765.43 1788.58 L769.04 1788.43 L772.65 1788.29 L776.27 1788.15 L779.88 1788.02 L783.49 1787.89 L787.1 1787.76 L790.72 1787.64 L819.62 1786.8 L848.52 1786.16 L877.42 1785.66 L906.32 1785.28 L935.22 1784.98 L964.12 1784.76 L993.02 1784.58 L1021.92 1784.45 L1050.82 1784.34 L1079.72 1784.26 L1108.62 1784.2 L1137.53 1784.15 L1166.43 1784.11 L1195.33 1784.09 L1224.23 1784.06 L1253.13 1784.05 L1282.03 1784.03 L1310.93 1784.02 L1339.83 1784.02 L1368.73 1784.01 L1397.63 1784.01 L1426.53 1784 L1455.43 1784 L1484.34 1784 L1513.24 1784 L1542.14 1783.99 L1571.04 1783.99 L1599.94 1783.99 L1628.84 1783.99 L1657.74 1783.99 L1686.64 1783.99 L1715.54 1783.99 L1744.44 1783.99 L1773.34 1783.99 L1802.24 1783.99 L1831.14 1783.99 L1860.05 1783.99 L1888.95 1783.99 L1917.85 1783.99 L1946.75 1783.99" fill="none" stroke="#00ff00" stroke-width="8" stroke-linejoin="round" stroke-dasharray="30.9 28.7" stroke-dashoffset="1.26"/>
<path d="M197.2 2451.28H228.2M212.7 2435.78V2466.78" stroke="#00ff00" stroke-width="8.3" fill="none"/><polygon points="207.2,2439.28 218.2,2439.28 224.7,2445.78 224.7,2456.78 218.2,2463.28 207.2,2463.28 200.7,2456.78 200.7,2445.78" fill="#00ff00"/>
<path d="M283.9 2089.5H314.9M299.4 2074V2105" stroke="#00ff00" stroke-width="8.3" fill="none"/><polygon points="293.9,2077.5 304.9,2077.5 311.4,2084 311.4,2095 304.9,2101.5 293.9,2101.5 287.4,2095 287.4,2084" fill="#00ff00"/>
<path d="M370.6 1923.86H401.6M386.1 1908.36V1939.36" stroke="#00ff00" stroke-width="8.3" fill="none"/><polygon points="380.6,1911.86 391.6,1911.86 398.1,1918.36 398.1,1929.36 391.6,1935.86 380.6,1935.86 374.1,1929.36 374.1,1918.36" fill="#00ff00"/>
<path d="M457.31 1848.03H488.31M472.81 1832.53V1863.53" stroke="#00ff00" stroke-width="8.3" fill="none"/><polygon points="467.31,1836.03 478.31,1836.03 484.81,1842.53 484.81,1853.53 478.31,1860.03 467.31,1860.03 460.81,1853.53 460.81,1842.53" fill="#00ff00"/>
<path d="M544.01 1813.31H575.01M559.51 1797.81V1828.81" stroke="#00ff00" stroke-width="8.3" fill="none"/><polygon points="554.01,1801.31 565.01,1801.31 571.51,1807.81 571.51,1818.81 565.01,1825.31 554.01,1825.31 547.51,1818.81 547.51,1807.81" fill="#00ff00"/>
<path d="M630.71 1797.41H661.71M646.21 1781.91V1812.91" stroke="#00ff00" stroke-width="8.3" fill="none"/><polygon points="640.71,1785.41 651.71,1785.41 658.21,1791.91 658.21,1802.91 651.71,1809.41 640.71,1809.41 634.21,1802.91 634.21,1791.91" fill="#00ff00"/>
<path d="M717.41 1790.14H748.41M732.91 1774.64V1805.64" stroke="#00ff00" stroke-width="8.3" fill="none"/><polygon points="727.41,1778.14 738.41,1778.14 744.91,1784.64 744.91,1795.64 738.41,1802.14 727.41,1802.14 720.91,1795.64 720.91,1784.64" fill="#00ff00"/>
<path d="M804.12 1786.8H835.12M819.62 1771.3V1802.3" stroke="#00ff00" stroke-width="8.3" fill="none"/><polygon points="814.12,1774.8 825.12,1774.8 831.62,1781.3 831.62,1792.3 825.12,1798.8 814.12,1798.8 807.62,1792.3 807.62,1781.3" fill="#00ff00"/>
<path d="M890.82 1785.28H921.82M906.32 1769.78V1800.78" stroke="#00ff00" stroke-width="8.3" fill="none"/><polygon points="900.82,1773.28 911.82,1773.28 918.32,1779.78 918.32,1790.78 911.82,1797.28 900.82,1797.28 894.32,1790.78 894.32,1779.78" fill="#00ff00"/>
<path d="M977.52 1784.58H1008.52M993.02 1769.08V1800.08" stroke="#00ff00" stroke-width="8.3" fill="none"/><polygon points="987.52,1772.58 998.52,1772.58 1005.02,1779.08 1005.02,1790.08 998.52,1796.58 987.52,1796.58 981.02,1790.08 981.02,1779.08" fill="#00ff00"/>
<path d="M1064.22 1784.26H1095.22M1079.72 1768.76V1799.76" stroke="#00ff00" stroke-width="8.3" fill="none"/><polygon points="1074.22,1772.26 1085.22,1772.26 1091.72,1778.76 1091.72,1789.76 1085.22,1796.26 1074.22,1796.26 1067.72,1789.76 1067.72,1778.76" fill="#00ff00"/>
<path d="M1150.93 1784.11H1181.93M1166.43 1768.61V1799.61" stroke="#00ff00" stroke-width="8.3" fill="none"/><polygon points="1160.93,1772.11 1171.93,1772.11 1178.43,1778.61 1178.43,1789.61 1171.93,1796.11 1160.93,1796.11 1154.43,1789.61 1154.43,1778.61" fill="#00ff00"/>
<path d="M1237.63 1784.05H1268.63M1253.13 1768.55V1799.55" stroke="#00ff00" stroke-width="8.3" fill="none"/><polygon points="1247.63,1772.05 1258.63,1772.05 1265.13,1778.55 1265.13,1789.55 1258.63,1796.05 1247.63,1796.05 1241.13,1789.55 1241.13,1778.55" fill="#00ff00"/>
<path d="M1324.33 1784.02H1355.33M1339.83 1768.52V1799.52" stroke="#00ff00" stroke-width="8.3" fill="none"/><polygon points="1334.33,1772.02 1345.33,1772.02 1351.83,1778.52 1351.83,1789.52 1345.33,1796.02 1334.33,1796.02 1327.83,1789.52 1327.83,1778.52" fill="#00ff00"/>
<path d="M1411.03 1784H1442.03M1426.53 1768.5V1799.5" stroke="#00ff00" stroke-width="8.3" fill="none"/><polygon points="1421.03,1772 1432.03,1772 1438.53,1778.5 1438.53,1789.5 1432.03,1796 1421.03,1796 1414.53,1789.5 1414.53,1778.5" fill="#00ff00"/>
<path d="M1497.74 1784H1528.74M1513.24 1768.5V1799.5" stroke="#00ff00" stroke-width="8.3" fill="none"/><polygon points="1507.74,1772 1518.74,1772 1525.24,1778.5 1525.24,1789.5 1518.74,1796 1507.74,1796 1501.24,1789.5 1501.24,1778.5" fill="#00ff00"/>
<path d="M1584.44 1783.99H1615.44M1599.94 1768.49V1799.49" stroke="#00ff00" stroke-width="8.3" fill="none"/><polygon points="1594.44,1771.99 1605.44,1771.99 1611.94,1778.49 1611.94,1789.49 1605.44,1795.99 1594.44,1795.99 1587.94,1789.49 1587.94,1778.49" fill="#00ff00"/>
<path d="M1671.14 1783.99H1702.14M1686.64 1768.49V1799.49" stroke="#00ff00" stroke-width="8.3" fill="none"/><polygon points="1681.14,1771.99 1692.14,1771.99 1698.64,1778.49 1698.64,1789.49 1692.14,1795.99 1681.14,1795.99 1674.64,1789.49 1674.64,1778.49" fill="#00ff00"/>
<path d="M1757.84 1783.99H1788.84M1773.34 1768.49V1799.49" stroke="#00ff00" stroke-width="8.3" fill="none"/><polygon points="1767.84,1771.99 1778.84,1771.99 1785.34,1778.49 1785.34,1789.49 1778.84,1795.99 1767.84,1795.99 1761.34,1789.49 1761.34,1778.49" fill="#00ff00"/>
<path d="M1844.55 1783.99H1875.55M1860.05 1768.49V1799.49" stroke="#00ff00" stroke-width="8.3" fill="none"/><polygon points="1854.55,1771.99 1865.55,1771.99 1872.05,1778.49 1872.05,1789.49 1865.55,1795.99 1854.55,1795.99 1848.05,1789.49 1848.05,1778.49" fill="#00ff00"/>
<path d="M212.7 2451.28 L214.15 2442.72 L215.59 2434.28 L217.04 2425.97 L218.48 2417.78 L219.93 2409.7 L221.37 2401.75 L222.82 2393.91 L224.26 2386.18 L225.71 2378.57 L227.15 2371.07 L228.6 2363.67 L230.04 2356.39 L231.49 2349.21 L232.93 2342.13 L234.38 2335.16 L235.82 2328.29 L237.27 2321.52 L238.71 2314.85 L240.16 2308.28 L241.6 2301.8 L243.05 2295.42 L244.49 2289.12 L245.94 2282.92 L247.38 2276.82 L248.83 2270.8 L250.27 2264.86 L251.72 2259.02 L253.16 2253.26 L254.61 2247.58 L256.05 2241.99 L257.5 2236.47 L258.94 2231.04 L260.39 2225.69 L261.83 2220.41 L263.28 2215.21 L264.72 2210.09 L266.17 2205.04 L267.61 2200.07 L269.06 2195.17 L270.5 2190.33 L271.95 2185.57 L273.39 2180.88 L274.84 2176.26 L276.28 2171.7 L277.73 2167.22 L279.17 2162.79 L280.62 2158.43 L282.06 2154.14 L283.51 2149.9 L284.95 2145.73 L286.4 2141.62 L287.84 2137.57 L289.29 2133.58 L290.73 2129.65 L292.18 2125.77 L293.62 2121.95 L295.07 2118.19 L296.51 2114.48 L297.96 2110.82 L299.4 2107.22 L300.85 2103.67 L302.29 2100.17 L303.74 2096.72 L305.18 2093.33 L306.63 2089.98 L308.07 2086.68 L309.52 2083.43 L310.96 2080.23 L312.41 2077.07 L313.85 2073.96 L315.3 2070.89 L316.74 2067.87 L318.19 2064.9 L319.63 2061.96 L321.08 2059.07 L322.52 2056.23 L323.97 2053.42 L325.41 2050.65 L326.86 2047.93 L328.3 2045.24 L329.75 2042.59 L331.19 2039.99 L332.64 2037.42 L334.08 2034.88 L335.53 2032.39 L336.97 2029.93 L338.42 2027.5 L339.86 2025.11 L341.31 2022.76 L342.75 2020.44 L344.2 2018.16 L345.64 2015.9 L347.09 2013.68 L348.53 2011.5 L349.98 2009.34 L351.42 2007.22 L352.87 2005.12 L354.31 2003.06 L355.76 2001.03 L357.2 1999.03 L360.82 1994.15 L364.43 1989.44 L368.04 1984.91 L371.65 1980.53 L375.27 1976.32 L378.88 1972.26 L382.49 1968.34 L386.1 1964.56 L389.72 1960.93 L393.33 1957.42 L396.94 1954.04 L400.56 1950.78 L404.17 1947.63 L407.78 1944.6 L411.39 1941.68 L415.01 1938.87 L418.62 1936.15 L422.23 1933.54 L425.84 1931.02 L429.46 1928.59 L433.07 1926.24 L436.68 1923.98 L440.29 1921.81 L443.91 1919.71 L447.52 1917.68 L451.13 1915.73 L454.74 1913.85 L458.36 1912.04 L461.97 1910.29 L465.58 1908.61 L469.19 1906.98 L472.81 1905.42 L476.42 1903.91 L480.03 1902.46 L483.64 1901.05 L487.26 1899.7 L490.87 1898.4 L494.48 1897.14 L498.1 1895.93 L501.71 1894.76 L505.32 1893.64 L508.93 1892.56 L512.55 1891.51 L516.16 1890.5 L519.77 1889.53 L523.38 1888.59 L527 1887.69 L530.61 1886.82 L534.22 1885.98 L537.83 1885.17 L541.45 1884.39 L545.06 1883.64 L548.67 1882.92 L552.28 1882.22 L555.9 1881.55 L559.51 1880.9 L563.12 1880.27 L566.73 1879.67 L570.35 1879.09 L573.96 1878.53 L577.57 1877.99 L581.19 1877.47 L584.8 1876.96 L588.41 1876.48 L592.02 1876.01 L595.64 1875.56 L599.25 1875.13 L602.86 1874.71 L606.47 1874.31 L610.09 1873.92 L613.7 1873.55 L617.31 1873.19 L620.92 1872.84 L624.54 1872.5 L628.15 1872.18 L631.76 1871.87 L635.37 1871.57 L638.99 1871.28 L642.6 1871 L646.21 1870.73 L649.82 1870.47 L653.44 1870.22 L657.05 1869.98 L660.66 1869.75 L664.27 1869.52 L667.89 1869.31 L671.5 1869.1 L675.11 1868.9 L678.73 1868.7 L682.34 1868.52 L685.95 1868.34 L689.56 1868.16 L693.18 1868 L696.79 1867.84 L700.4 1867.68 L704.01 1867.53 L707.63 1867.39 L711.24 1867.25 L714.85 1867.11 L718.46 1866.99 L722.08 1866.86 L725.69 1866.74 L729.3 1866.63 L732.91 1866.51 L736.53 1866.41 L740.14 1866.3 L743.75 1866.2 L747.36 1866.11 L750.98 1866.01 L754.59 1865.92 L758.2 1865.84 L761.82 1865.75 L765.43 1865.67 L769.04 1865.6 L772.65 1865.52 L776.27 1865.45 L779.88 1865.38 L783.49 1865.31 L787.1 1865.25 L790.72 1865.19 L819.62 1864.77 L848.52 1864.45 L877.42 1864.22 L906.32 1864.04 L935.22 1863.91 L964.12 1863.81 L993.02 1863.74 L1021.92 1863.69 L1050.82 1863.65 L1079.72 1863.62 L1108.62 1863.59 L1137.53 1863.58 L1166.43 1863.56 L1195.33 1863.56 L1224.23 1863.55 L1253.13 1863.54 L1282.03 1863.54 L1310.93 1863.54 L1339.83 1863.53 L1368.73 1863.53 L1397.63 1863.53 L1426.53 1863.53 L1455.43 1863.53 L1484.34 1863.53 L1513.24 1863.53 L1542.14 1863.53 L1571.04 1863.53 L1599.94 1863.53 L1628.84 1863.53 L1657.74 1863.53 L1686.64 1863.53 L1715.54 1863.53 L1744.44 1863.53 L1773.34 1863.53 L1802.24 1863.53 L1831.14 1863.53 L1860.05 1863.53 L1888.95 1863.53 L1917.85 1863.53 L1946.75 1863.53" fill="none" stroke="#0000ff" stroke-width="8" stroke-linejoin="round" stroke-dasharray="8.6 6.3" stroke-dashoffset="2.03"/>
<path d="M197.2 2451.28H228.2M212.7 2435.78V2466.78" stroke="#0000ff" stroke-width="8.3" fill="none"/>
<path d="M283.9 2107.22H314.9M299.4 2091.72V2122.72" stroke="#0000ff" stroke-width="8.3" fill="none"/>
<path d="M370.6 1964.56H401.6M386.1 1949.06V1980.06" stroke="#0000ff" stroke-width="8.3" fill="none"/>
<path d="M457.31 1905.42H488.31M472.81 1889.92V1920.92" stroke="#0000ff" stroke-width="8.3" fill="none"/>
<path d="M544.01 1880.9H575.01M559.51 1865.4V1896.4" stroke="#0000ff" stroke-width="8.3" fill="none"/>
<path d="M630.71 1870.73H661.71M646.21 1855.23V1886.23" stroke="#0000ff" stroke-width="8.3" fill="none"/>
<path d="M717.41 1866.51H748.41M732.91 1851.01V1882.01" stroke="#0000ff" stroke-width="8.3" fill="none"/>
<path d="M804.12 1864.77H835.12M819.62 1849.27V1880.27" stroke="#0000ff" stroke-width="8.3" fill="none"/>
<path d="M890.82 1864.04H921.82M906.32 1848.54V1879.54" stroke="#0000ff" stroke-width="8.3" fill="none"/>
<path d="M977.52 1863.74H1008.52M993.02 1848.24V1879.24" stroke="#0000ff" stroke-width="8.3" fill="none"/>
<path d="M1064.22 1863.62H1095.22M1079.72 1848.12V1879.12" stroke="#0000ff" stroke-width="8.3" fill="none"/>
<path d="M1150.93 1863.56H1181.93M1166.43 1848.06V1879.06" stroke="#0000ff" stroke-width="8.3" fill="none"/>
<path d="M1237.63 1863.54H1268.63M1253.13 1848.04V1879.04" stroke="#0000ff" stroke-width="8.3" fill="none"/>
<path d="M1324.33 1863.53H1355.33M1339.83 1848.03V1879.03" stroke="#0000ff" stroke-width="8.3" fill="none"/>
<path d="M1411.03 1863.53H1442.03M1426.53 1848.03V1879.03" stroke="#0000ff" stroke-width="8.3" fill="none"/>
<path d="M1497.74 1863.53H1528.74M1513.24 1848.03V1879.03" stroke="#0000ff" stroke-width="8.3" fill="none"/>
<path d="M1584.44 1863.53H1615.44M1599.94 1848.03V1879.03" stroke="#0000ff" stroke-width="8.3" fill="none"/>
<path d="M1671.14 1863.53H1702.14M1686.64 1848.03V1879.03" stroke="#0000ff" stroke-width="8.3" fill="none"/>
<path d="M1757.84 1863.53H1788.84M1773.34 1848.03V1879.03" stroke="#0000ff" stroke-width="8.3" fill="none"/>
<path d="M1844.55 1863.53H1875.55M1860.05 1848.03V1879.03" stroke="#0000ff" stroke-width="8.3" fill="none"/>
<g font-family="'Liberation Serif','Times New Roman',serif" font-size="71" fill="#262626">
<text x="211.2" y="2637.5" text-anchor="middle">0</text>
<text x="572.46" y="2637.5" text-anchor="middle">500</text>
<text x="933.72" y="2637.5" text-anchor="middle">1000</text>
<text x="1294.98" y="2637.5" text-anchor="middle">1500</text>
<text x="1656.24" y="2637.5" text-anchor="middle">2000</text>
<text x="2017.5" y="2637.5" text-anchor="middle">2500</text>
<text x="187.7" y="2572.9" text-anchor="end">20</text>
<text x="187.7" y="2345" text-anchor="end">30</text>
<text x="187.7" y="2117.1" text-anchor="end">40</text>
<text x="187.7" y="1889.2" text-anchor="end">50</text>
<text x="187.7" y="1661.3" text-anchor="end">60</text>
<text x="187.7" y="1433.4" text-anchor="end">70</text>
</g>
<text x="1152.7" y="2713.8" font-family="'Liberation Serif','Times New Roman',serif" font-size="69" fill="#262626" text-anchor="middle">Time(s)</text>
<text transform="translate(88.9 1979.6) rotate(-90)" font-family="'Liberation Serif','Times New Roman',serif" font-size="69.8" fill="#262626" text-anchor="middle">Node temperature of stator yoke(&#176;C)</text>
<text x="1996.7" y="2722.7" font-family="'Liberation Serif','Times New Roman',serif" font-size="70" fill="#000">(b)</text>
<path d="M930.9 2102.4H1081.1" stroke="#ff0000" stroke-width="8.5"/>
<circle cx="1006" cy="2102.4" r="12" fill="none" stroke="#ff0000" stroke-width="8.5"/>
<text x="1091.3" y="2137.6" font-family="'Liberation Serif','Times New Roman',serif" font-size="63" fill="#000">&#945;=500W/(m<tspan x="1400" y="2107.9" font-size="53.5">2</tspan><tspan x="1427.6" y="2137.6">.K)</tspan></text>
<path d="M930.9 2197.2H1081.1" stroke="#00ff00" stroke-width="8.5" stroke-dasharray="31 28.6"/>
<path d="M990.5 2197.2H1021.5M1006 2181.7V2212.7" stroke="#00ff00" stroke-width="8" fill="none"/><polygon points="1000.5,2185.2 1011.5,2185.2 1018,2191.7 1018,2202.7 1011.5,2209.2 1000.5,2209.2 994,2202.7 994,2191.7" fill="#00ff00"/>
<text x="1091.3" y="2231" font-family="'Liberation Serif','Times New Roman',serif" font-size="63" fill="#000">&#945;=1000W/(m<tspan x="1428.9" y="2201.3" font-size="53.5">2</tspan><tspan x="1456.5" y="2231">.K)</tspan></text>
<path d="M930.9 2292H1074" stroke="#0000ff" stroke-width="8.5" stroke-dasharray="8.6 6.35"/>
<path d="M990.5 2292H1021.5M1006 2276.5V2307.5" stroke="#0000ff" stroke-width="8" fill="none"/>
<text x="1091.3" y="2328" font-family="'Liberation Serif','Times New Roman',serif" font-size="63" fill="#000">&#945;=1500W/(m<tspan x="1428.9" y="2298.3" font-size="53.5">2</tspan><tspan x="1456.5" y="2328">.K)</tspan></text>
</svg>
</body></html>
